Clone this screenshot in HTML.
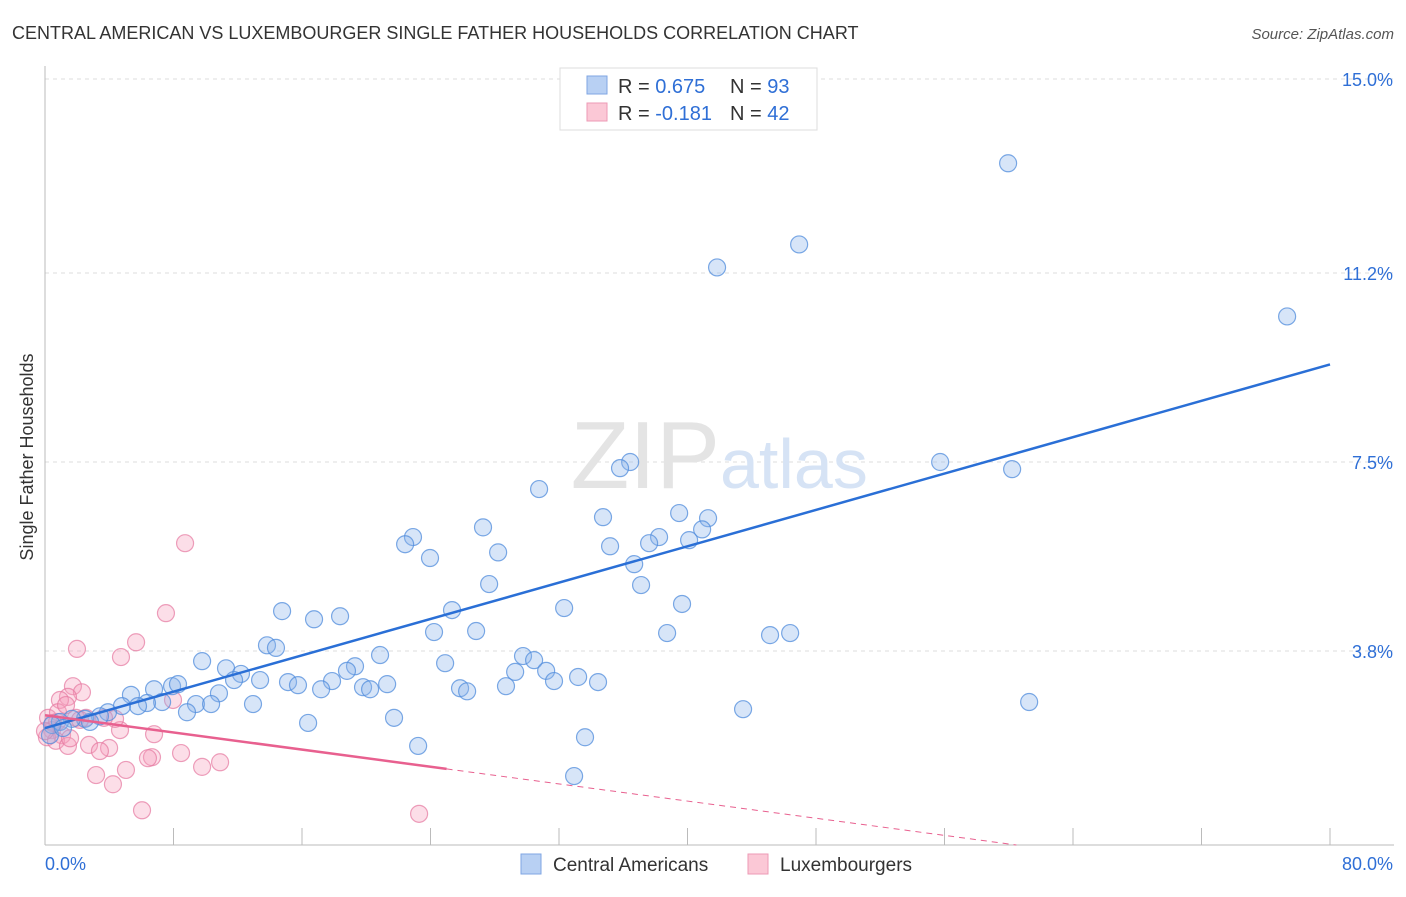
<!DOCTYPE html>
<html><head><meta charset="utf-8"><style>
body{margin:0;background:#fff;font-family:"Liberation Sans",sans-serif;}
svg text{font-family:"Liberation Sans",sans-serif;}
</style></head><body>
<svg id="c" width="1406" height="892" xmlns="http://www.w3.org/2000/svg">
<text x="12" y="39" font-size="18" fill="#333">CENTRAL AMERICAN VS LUXEMBOURGER SINGLE FATHER HOUSEHOLDS CORRELATION CHART</text>
<text x="1394" y="39" font-size="15" fill="#555" text-anchor="end" font-style="italic">Source: ZipAtlas.com</text>
<text x="33" y="457" font-size="18" fill="#333" text-anchor="middle" transform="rotate(-90 33 457)">Single Father Households</text>
<g id="grid"></g>
<text x="720" y="488" font-size="96" fill="#e4e4e4" text-anchor="end" font-family="Liberation Serif">ZIP</text>
<text x="720" y="488" font-size="70" fill="#d6e3f5">atlas</text>
<g id="marks"></g>
<g>
<rect x="560" y="68" width="257" height="62" fill="#fff" stroke="#ddd"/>
<rect x="587" y="76" width="20" height="18" fill="#b8d0f3" stroke="#7fa6e3"/>
<text x="618" y="93" font-size="20" fill="#333">R = <tspan fill="#2f6fd6">0.675</tspan></text>
<text x="730" y="93" font-size="20" fill="#333">N = <tspan fill="#2f6fd6">93</tspan></text>
<rect x="587" y="103" width="20" height="18" fill="#fbc8d6" stroke="#ec9ab5"/>
<text x="618" y="120" font-size="20" fill="#333">R = <tspan fill="#2f6fd6">-0.181</tspan></text>
<text x="730" y="120" font-size="20" fill="#333">N = <tspan fill="#2f6fd6">42</tspan></text>
</g>
<g>
<rect x="521" y="854" width="20" height="20" fill="#b8d0f3" stroke="#7fa6e3"/>
<text x="553" y="871" font-size="19" fill="#333">Central Americans</text>
<rect x="748" y="854" width="20" height="20" fill="#fbc8d6" stroke="#ec9ab5"/>
<text x="780" y="871" font-size="19" fill="#333">Luxembourgers</text>
</g>
</svg>
<script>
const yTicks=[3.8,7.5,11.2,15.0];
const yTickLabels=["3.8%","7.5%","11.2%","15.0%"];
const xTickLabels=["0.0%","80.0%"];
const blueX=[59.96,46.95,41.84,77.33,55.73,60.21,36.43,35.80,30.76,27.27,34.74,39.48,41.28,40.91,40.10,38.23,37.61,35.18,22.91,22.42,28.21,23.97,36.68,27.65,37.11,32.32,39.66,25.34,14.76,16.75,18.37,24.22,26.84,38.73,45.14,46.39,13.82,14.38,9.78,11.27,12.20,20.86,19.30,18.80,24.91,29.76,30.45,29.27,31.20,31.69,33.19,34.43,28.70,25.84,26.28,17.87,15.13,15.75,17.19,19.80,20.24,21.30,7.91,8.28,6.79,5.35,10.83,13.39,11.77,9.40,10.34,8.84,12.95,7.29,6.35,5.79,4.79,3.92,3.42,2.49,1.68,0.93,0.44,0.31,1.12,16.38,21.73,23.23,33.62,43.46,61.27,32.94,2.80];
const blueY=[13.35,11.76,11.31,10.35,7.50,7.36,7.50,7.38,6.97,6.22,6.42,6.50,6.40,6.18,5.97,6.03,5.91,5.85,6.03,5.89,5.73,5.62,5.50,5.11,5.09,4.64,4.72,4.60,4.58,4.42,4.48,4.17,4.19,4.15,4.11,4.15,3.91,3.86,3.60,3.46,3.35,3.72,3.50,3.41,3.56,3.70,3.62,3.39,3.41,3.21,3.29,3.19,3.11,3.07,3.01,3.21,3.19,3.13,3.05,3.09,3.05,3.15,3.11,3.15,3.05,2.94,2.97,3.23,3.23,2.76,2.76,2.60,2.76,2.80,2.78,2.72,2.72,2.60,2.52,2.47,2.47,2.41,2.35,2.15,2.29,2.39,2.49,1.94,2.11,2.66,2.80,1.35,2.41];
const pinkX=[8.72,7.53,5.67,1.99,4.73,1.74,2.30,1.43,0.93,0.19,0.75,0.44,1.06,0.12,0.68,1.43,2.74,3.99,3.42,4.67,2.55,4.36,6.79,8.47,6.66,6.41,10.90,9.78,5.04,3.18,4.23,6.04,23.29,7.97,1.93,0.81,1.31,0.50,0.0,1.56,3.67,2.18];
const pinkY=[5.91,4.54,3.97,3.84,3.68,3.11,2.99,2.90,2.84,2.49,2.41,2.25,2.15,2.11,2.04,1.94,1.96,1.90,1.84,2.25,2.49,2.47,2.17,1.80,1.72,1.70,1.62,1.53,1.47,1.37,1.19,0.68,0.61,2.84,2.49,2.60,2.74,2.39,2.23,2.09,2.49,2.45];
const blueTrend=[2.29,9.41];
const pinkTrend=[2.54,-0.042];
const NS="http://www.w3.org/2000/svg";
const X0=45,X1=1330,Y0=845,YTOP=79;
const xs=v=>X0+v/80*(X1-X0);
const ys=v=>Y0-v/15*(Y0-YTOP);
function mk(tag,attrs,parent){const e=document.createElementNS(NS,tag);for(const k in attrs)e.setAttribute(k,attrs[k]);parent.appendChild(e);return e;}
const grid=document.getElementById('grid'),marks=document.getElementById('marks');
yTicks.forEach((t,i)=>{
 const l=mk('line',{x1:X0,x2:1394,y1:ys(t),y2:ys(t),stroke:'#ddd','stroke-dasharray':'4 4'},grid);
 
 
 const tx=mk('text',{x:1393,y:ys(t)+7,'font-size':18,fill:'#2f6fd6','text-anchor':'end'},grid);
 tx.textContent=yTickLabels[i];
 
 
});
const ax=mk('line',{x1:X0,x2:X0,y1:66,y2:Y0,stroke:'#bbb'},grid);


const bx=mk('line',{x1:X0,x2:1394,y1:Y0,y2:Y0,stroke:'#bbb'},grid);


for(let i=1;i<=10;i++){
 const t=mk('line',{x1:xs(i*8),x2:xs(i*8),y1:828,y2:Y0,stroke:'#bbb'},grid);
 
 
}
[[0,'start',45],[80,'end',1393]].forEach((d,i)=>{
 const t=mk('text',{x:d[2],y:870,'font-size':18,fill:'#2f6fd6','text-anchor':d[1]},grid);
 t.textContent=xTickLabels[i];
 
 
});
pinkX.forEach((x,i)=>{
 const c=mk('circle',{cx:xs(x),cy:ys(pinkY[i]),r:8.5,fill:'rgba(245,160,190,0.35)',stroke:'rgba(230,120,160,0.7)','stroke-width':1.2},marks);
 
 
});
blueX.forEach((x,i)=>{
 const c=mk('circle',{cx:xs(x),cy:ys(blueY[i]),r:8.5,fill:'rgba(140,180,235,0.35)',stroke:'rgba(80,140,220,0.75)','stroke-width':1.2},marks);
 
 
});
const bl=mk('line',{x1:xs(0),y1:ys(blueTrend[0]),x2:xs(80),y2:ys(blueTrend[1]),stroke:'#2a6fd6','stroke-width':2.5},marks);


const pz=-pinkTrend[0]/pinkTrend[1];
const pl=mk('line',{x1:xs(0),y1:ys(pinkTrend[0]),x2:xs(25),y2:ys(pinkTrend[0]+pinkTrend[1]*25),stroke:'#e8608f','stroke-width':2.5},marks);


const pd=mk('line',{x1:xs(25),y1:ys(pinkTrend[0]+pinkTrend[1]*25),x2:xs(pz),y2:ys(0),stroke:'#e8608f','stroke-width':1,'stroke-dasharray':'6 5'},marks);


</script>
</body></html>
